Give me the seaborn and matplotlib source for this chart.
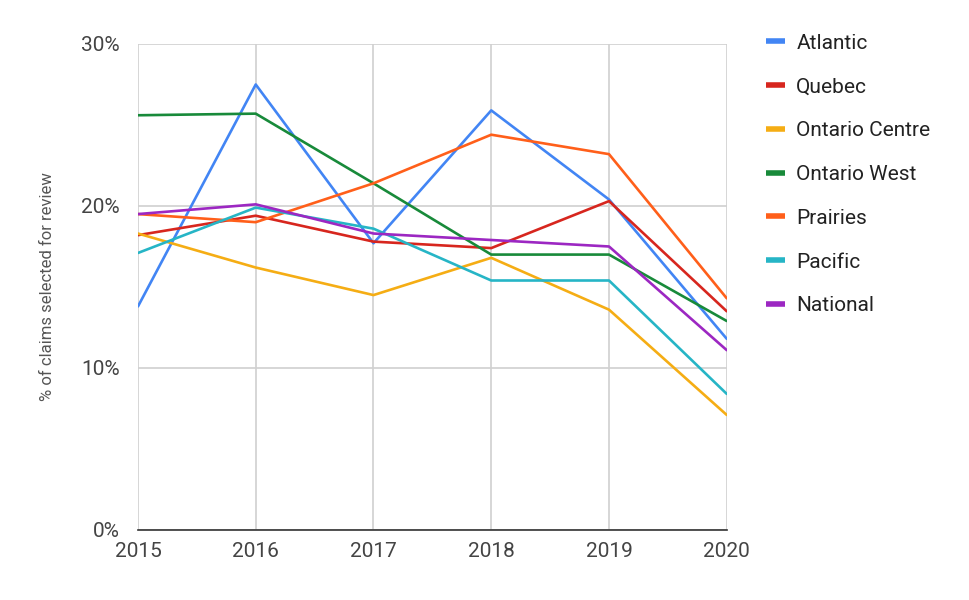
import matplotlib
matplotlib.use("Agg")
import matplotlib.pyplot as plt
import matplotlib.ticker as mticker
import pandas as pd
import seaborn as sns

# Chart data (percent of claims selected for review)
YEARS = [2015, 2016, 2017, 2018, 2019, 2020]
REGIONS = ["Atlantic", "Quebec", "Ontario Centre", "Ontario West", "Prairies", "Pacific", "National"]

atlantic = [13.8, 27.5, 17.7, 25.9, 20.4, 11.8]
quebec = [18.2, 19.4, 17.8, 17.4, 20.3, 13.5]
ontario_centre = [18.3, 16.2, 14.5, 16.8, 13.6, 7.1]
ontario_west = [25.6, 25.7, 21.4, 17.0, 17.0, 12.9]
prairies = [19.5, 19.0, 21.4, 24.4, 23.2, 14.3]
pacific = [17.1, 19.9, 18.6, 15.4, 15.4, 8.4]
national = [19.5, 20.1, 18.3, 17.9, 17.5, 11.1]

SERIES = [atlantic, quebec, ontario_centre, ontario_west, prairies, pacific, national]
COLORS = ["#4285F4", "#D7261E", "#F5AD14", "#188A3A", "#FF5F1A", "#26B5C6", "#9C27C2"]


def build_frame() -> pd.DataFrame:
    rows = []
    for region, values in zip(REGIONS, SERIES):
        for year, v in zip(YEARS, values):
            rows.append({"year": year, "region": region, "pct": v})
    return pd.DataFrame(rows)


def main() -> None:
    sns.set_style("white")
    plt.rcParams["font.family"] = ["Roboto", "DejaVu Sans"]

    df = build_frame()
    fig = plt.figure(figsize=(9.69, 6.0), dpi=100)
    ax = fig.add_axes([0.1424, 0.1167, 0.6076, 0.81])

    sns.lineplot(
        data=df, x="year", y="pct", hue="region", hue_order=REGIONS,
        palette=COLORS, linewidth=1.9, ax=ax, legend=False,
    )

    ax.set_xlim(2015, 2020)
    ax.set_ylim(0, 30)
    ax.set_xticks(YEARS)
    ax.set_yticks([0, 10, 20, 30])
    ax.yaxis.set_major_formatter(mticker.FuncFormatter(lambda v, _: f"{int(v)}%"))
    ax.grid(True, color="#d0d0d0", linewidth=1.2)
    ax.set_axisbelow(True)
    ax.tick_params(axis="both", length=0, labelsize=15, colors="#444444")
    ax.tick_params(axis="x", pad=9)
    ax.tick_params(axis="y", pad=13)
    for side in ["top", "right", "left"]:
        ax.spines[side].set_visible(False)
    ax.spines["bottom"].set_color("#333333")
    ax.spines["bottom"].set_linewidth(1.2)

    ax.set_xlabel("")
    ax.set_ylabel("% of claims selected for review", fontsize=12, color="#555555", labelpad=19)

    handles = [plt.Line2D([0], [0], color=c, linewidth=4, solid_capstyle="butt") for c in COLORS]
    ax.legend(
        handles, REGIONS, loc="upper left", bbox_to_anchor=(1.035, 1.06),
        frameon=False, fontsize=15, handlelength=0.9, handletextpad=0.55,
        labelspacing=1.19, labelcolor="#222222",
    )

    fig.savefig("out.png", dpi=100)
    plt.close(fig)


if __name__ == "__main__":
    main()
